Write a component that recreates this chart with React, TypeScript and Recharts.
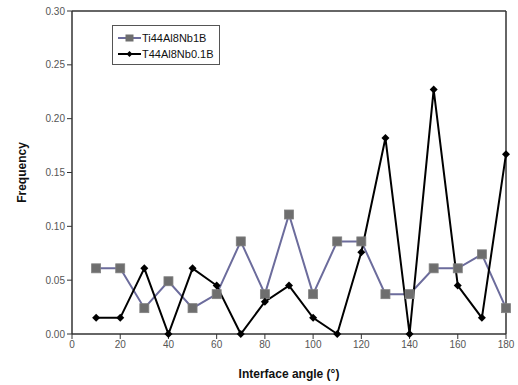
import React from 'react';
import { LineChart, Line, XAxis, YAxis, ReferenceLine } from 'recharts';

const angles = [10, 20, 30, 40, 50, 60, 70, 80, 90, 100, 110, 120, 130, 140, 150, 160, 170, 180];
const nb1B = [0.061, 0.061, 0.024, 0.049, 0.024, 0.037, 0.086, 0.037, 0.111, 0.037, 0.086, 0.086, 0.037, 0.037, 0.061, 0.061, 0.074, 0.024];
const nb01B = [0.015, 0.015, 0.061, 0, 0.061, 0.045, 0, 0.03, 0.045, 0.015, 0, 0.076, 0.182, 0, 0.227, 0.045, 0.015, 0.167];
const xTicks = [0, 20, 40, 60, 80, 100, 120, 140, 160, 180];
const yTicks = [0, 0.05, 0.1, 0.15, 0.2, 0.25, 0.3];

const data = angles.map((a, i) => ({ angle: a, nb1B: nb1B[i], nb01B: nb01B[i] }));

const font = 'Arial, "Liberation Sans", sans-serif';

const SquareDot = (props: any) => {
  const { cx, cy, key } = props;
  if (cx == null || cy == null) return null;
  return <rect key={key} x={cx - 4.5} y={cy - 4.5} width={9} height={9} fill="#6e6e6e" stroke="#808080" strokeWidth={0.8} />;
};

const DiamondDot = (props: any) => {
  const { cx, cy, key } = props;
  if (cx == null || cy == null) return null;
  return <polygon key={key} points={`${cx},${cy - 4} ${cx + 4},${cy} ${cx},${cy + 4} ${cx - 4},${cy}`} fill="#000" />;
};

function LegendBox() {
  return (
    <div
      style={{
        position: 'absolute',
        left: 112,
        top: 25,
        width: 108,
        height: 40,
        border: '1px solid #555',
        background: '#fff',
        fontFamily: font,
        fontSize: 11,
        color: '#111',
        boxSizing: 'border-box',
      }}
    >
      <svg width={108} height={40} style={{ position: 'absolute', left: 0, top: 0 }}>
        <line x1={5} y1={12} x2={28} y2={12} stroke="#6c6c9c" strokeWidth={2} />
        <rect x={12.5} y={8.5} width={8} height={7} fill="#6e6e6e" />
        <line x1={5} y1={28} x2={28} y2={28} stroke="#000" strokeWidth={2} />
        <polygon points="16.5,25 19.5,28 16.5,31 13.5,28" fill="#000" />
        <text x={29} y={16} fontSize={11} fill="#111" fontFamily={font}>Ti44Al8Nb1B</text>
        <text x={29} y={32} fontSize={11} fill="#111" fontFamily={font}>T44Al8Nb0.1B</text>
      </svg>
    </div>
  );
}

export default function App() {
  return (
    <div style={{ position: 'absolute', left: 0, top: 0, width: 518, height: 385, background: '#fff' }}>
      <LineChart width={518} height={385} data={data} margin={{ top: 11, right: 12, bottom: 29, left: 28 }}>
        <XAxis
          dataKey="angle"
          type="number"
          domain={[0, 180]}
          ticks={xTicks}
          interval={0}
          axisLine={{ stroke: '#333', strokeWidth: 1.5 }}
          tickLine={{ stroke: '#333' }}
          tickSize={5}
          tick={{ fill: '#555', fontSize: 10, fontFamily: font }}
          height={22}
          label={{ value: 'Interface angle (°)', position: 'insideBottom', offset: -22, fill: '#111', fontSize: 12, fontWeight: 'bold', fontFamily: font }}
        />
        <YAxis
          type="number"
          domain={[0, 0.3]}
          ticks={yTicks}
          interval={0}
          width={44}
          axisLine={{ stroke: '#333', strokeWidth: 1.5 }}
          tickLine={{ stroke: '#333' }}
          tickSize={5}
          tickFormatter={(v: number) => v.toFixed(2)}
          tick={{ fill: '#555', fontSize: 10, fontFamily: font }}
          label={{ value: 'Frequency', angle: -90, position: 'insideLeft', offset: -6, fill: '#111', fontSize: 12, fontWeight: 'bold', fontFamily: font, style: { textAnchor: 'middle' } }}
        />
        <ReferenceLine y={0.3} stroke="#333" strokeWidth={1.5} />
        <ReferenceLine x={180} stroke="#333" strokeWidth={1.5} />
        <Line dataKey="nb1B" stroke="#6c6c9c" strokeWidth={2} dot={SquareDot} activeDot={false} isAnimationActive={false} />
        <Line dataKey="nb01B" stroke="#000" strokeWidth={2} dot={DiamondDot} activeDot={false} isAnimationActive={false} />
      </LineChart>
      <LegendBox />
    </div>
  );
}
